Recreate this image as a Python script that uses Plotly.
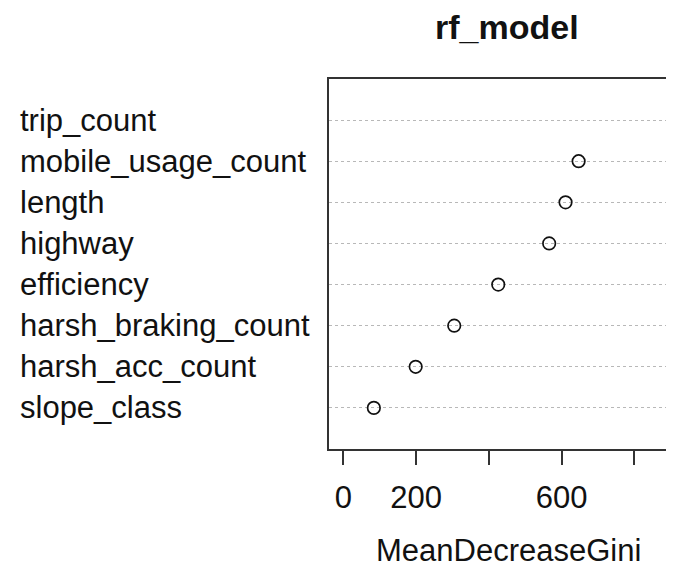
import plotly.graph_objects as go

# Data (top to bottom as shown)
features = ["trip_count", "mobile_usage_count", "length", "highway",
            "efficiency", "harsh_braking_count", "harsh_acc_count", "slope_class"]
mean_decrease_gini = [917, 647, 611, 566, 426, 305, 199, 84]
x_tick_vals = [0, 200, 400, 600, 800]
x_tick_text = ["0", "200", "", "600", ""]
title_text = "rf_model"
x_title = "MeanDecreaseGini"

n = len(features)
y_pos = [n - i for i in range(n)]

# page body has an 8px margin; figure sized to fill the window
OFF = 8
W, H = 666, 562
ML, MR, MT, MB = 321, 0, 71, 121
PW, PH = W - ML - MR, H - MT - MB
FONT = "Liberation Sans, Arial, sans-serif"


def px_x(screen_px):
    return (screen_px - OFF - ML) / PW


def px_y(screen_px):
    return (H - MB - (screen_px - OFF)) / PH


fig = go.Figure()
fig.add_trace(go.Scatter(
    x=mean_decrease_gini, y=y_pos, mode="markers", cliponaxis=False,
    marker=dict(symbol="circle-open", size=12.5, color="#111111",
                line=dict(width=1.7, color="#111111")),
    showlegend=False, hoverinfo="x+text", text=features,
))

annotations = []
for f, y in zip(features, y_pos):
    annotations.append(dict(
        text=f, x=px_x(18), xref="paper", xanchor="left",
        y=y, yref="y", yanchor="middle", showarrow=False,
        font=dict(family=FONT, size=31, color="#111111"),
    ))
annotations.append(dict(
    text="<b>" + title_text + "</b>", x=px_x(507), xref="paper",
    xanchor="center", y=px_y(27), yref="paper", yanchor="middle",
    showarrow=False, font=dict(family=FONT, size=34, color="#111111"),
))
annotations.append(dict(
    text=x_title, x=px_x(508), xref="paper",
    xanchor="center", y=px_y(550), yref="paper", yanchor="middle",
    showarrow=False, font=dict(family=FONT, size=31, color="#111111"),
))

fig.update_layout(
    width=W, height=H,
    margin=dict(l=ML, r=MR, t=MT, b=MB, pad=0),
    paper_bgcolor="white", plot_bgcolor="white",
    annotations=annotations,
    xaxis=dict(
        range=[-39.3, 909.2], tickvals=x_tick_vals, ticktext=x_tick_text,
        ticks="outside", ticklen=14, tickwidth=1.6, tickcolor="#333333",
        ticklabelstandoff=6,
        showgrid=False, zeroline=False,
        showline=True, linecolor="#333333", linewidth=1.6, mirror=True,
        tickfont=dict(family=FONT, size=31, color="#111111"),
    ),
    yaxis=dict(
        range=[0, 9], tickvals=y_pos, showticklabels=False, ticks="",
        showgrid=True, gridcolor="#b8b8b8", griddash="dot", gridwidth=1,
        zeroline=False, showline=True, linecolor="#333333", linewidth=1.6,
        mirror=False,
    ),
)

fig.write_html("out.html")
